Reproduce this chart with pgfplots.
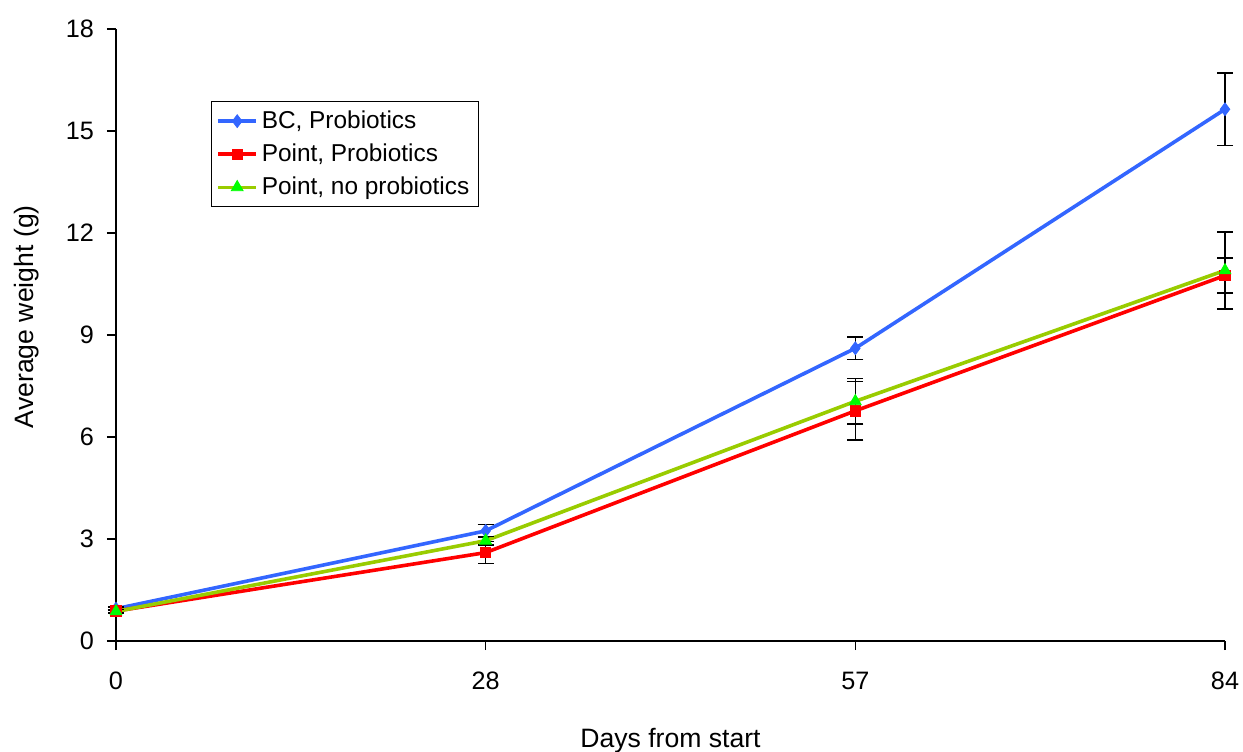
\documentclass[border=0pt]{standalone}
\usepackage{pgfplots}
\pgfplotsset{compat=1.18}
\usepackage{fontspec}
\setmainfont{Liberation Sans}

\definecolor{bcblue}{RGB}{51,102,255}
\definecolor{ptred}{RGB}{255,0,0}
\definecolor{olive}{RGB}{153,204,0}
\definecolor{brightgreen}{RGB}{0,255,0}

% growth data: category index, mean weight (g), error
\pgfplotstableread{
x y e
0 0.95 0.05
1 3.24 0.18
2 8.61 0.33
3 15.64 1.07
}\bcprob
\pgfplotstableread{
x y e
0 0.88 0.05
1 2.60 0.32
2 6.77 0.86
3 10.75 0.51
}\ptprob
\pgfplotstableread{
x y e
0 0.87 0.05
1 2.95 0.12
2 7.05 0.67
3 10.90 1.13
}\ptnoprob

\begin{document}
\begin{tikzpicture}
\path[use as bounding box] (-58pt,-55pt) rectangle (563.5pt,320.5pt);
\begin{axis}[
  at={(0,0)}, anchor=south west,
  scale only axis,
  width=554.5pt, height=306pt,
  axis lines*=left,
  xmin=0, xmax=3, ymin=0, ymax=18,
  xtick={0,1,2,3}, xticklabels={0,28,57,84},
  ytick={0,3,6,9,12,15,18},
  tick align=outside,
  major tick length=4.5pt,
  tick style={black, line width=0.6pt},
  axis line style={black, line width=0.6pt},
  clip=false,
  ticklabel style={font=\fontsize{12.6}{14}\selectfont},
  /pgf/number format/assume math mode=true,
  xticklabel style={yshift=-7.5pt},
  yticklabel style={xshift=-3pt},
  xlabel={Days from start},
  ylabel={Average weight (g)},
  label style={font=\fontsize{13.3}{15}\selectfont},
  xlabel style={at={(axis description cs:0.5,-0.1732)}, anchor=base},
  ylabel style={at={(axis description cs:-0.0748,0.530)}, anchor=base},
  legend cell align=left,
  legend style={at={(0.0857,0.882)}, anchor=north west,
    draw=black, line width=0.6pt, font=\fontsize{12.2}{14}\selectfont,
    row sep=2.2pt, inner sep=2.5pt},
  legend image code/.code={
    \draw[mark repeat=2, mark phase=2]
      plot coordinates {(0cm,0cm) (0.33cm,0cm) (0.66cm,0cm)};},
  every axis plot/.append style={line width=1.8pt},
  error bars/error bar style={black, line width=0.75pt},
  error bars/error mark options={black, line width=0.75pt, rotate=90, mark size=4pt},
]
\addplot[color=bcblue, mark=diamond*, mark size=3.2pt,
  mark options={fill=bcblue, draw=bcblue, line width=0.4pt},
  error bars/.cd, y dir=both, y explicit]
  table[x=x, y=y, y error=e] {\bcprob};
\addlegendentry{BC, Probiotics}
\addplot[color=ptred, mark=square*, mark size=2.6pt,
  mark options={fill=ptred, draw=ptred, line width=0.4pt},
  error bars/.cd, y dir=both, y explicit]
  table[x=x, y=y, y error=e] {\ptprob};
\addlegendentry{Point, Probiotics}
\addplot[color=olive, mark=triangle*, mark size=3.4pt,
  mark options={fill=brightgreen, draw=brightgreen, line width=0.4pt},
  error bars/.cd, y dir=both, y explicit]
  table[x=x, y=y, y error=e] {\ptnoprob};
\addlegendentry{Point, no probiotics}
\end{axis}
\end{tikzpicture}
\end{document}
